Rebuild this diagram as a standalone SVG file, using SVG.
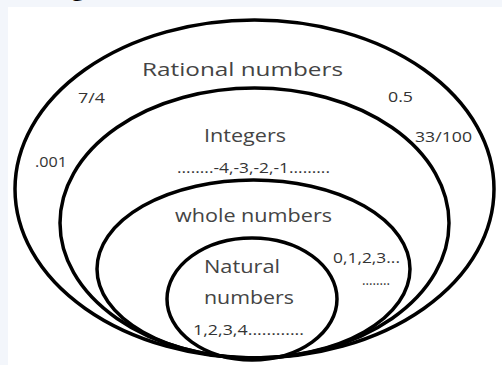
<svg xmlns="http://www.w3.org/2000/svg" width="502" height="365" viewBox="0 0 502 365">
<style>
.set{fill:none;stroke:#000;stroke-width:3.5}
.lbl{font-family:"Open Sans","Liberation Sans",sans-serif;fill:#444;text-anchor:middle}
.big{font-size:19px}
.sm{font-size:14px;fill:#333}
</style>
<rect x="0" y="0" width="502" height="365" fill="#f3f6fb"/>
<rect x="8" y="7" width="494" height="358" fill="#fff"/>
<text x="78" y="-5" style="font-family:'Open Sans','Liberation Sans',sans-serif;font-size:26px;fill:#000" text-anchor="middle">g</text>
<g id="connectors"></g>
<g id="rational">
<ellipse class="set" cx="254.5" cy="189" rx="239.5" ry="169"/>
<text class="lbl big" x="242.5" y="76" textLength="201" lengthAdjust="spacingAndGlyphs">Rational numbers</text>
<text class="lbl sm" x="91.5" y="103" textLength="27" lengthAdjust="spacingAndGlyphs">7/4</text>
<text class="lbl sm" x="400.5" y="102" textLength="25" lengthAdjust="spacingAndGlyphs">0.5</text>
<text class="lbl sm" x="443.5" y="142" textLength="57" lengthAdjust="spacingAndGlyphs">33/100</text>
<text class="lbl sm" x="51" y="167" textLength="32" lengthAdjust="spacingAndGlyphs">.001</text>
</g>
<g id="integers">
<ellipse class="set" cx="254.5" cy="223" rx="194.5" ry="135"/>
<text class="lbl big" x="245" y="142" textLength="82" lengthAdjust="spacingAndGlyphs">Integers</text>
<text class="lbl sm" x="253.5" y="173" textLength="153" lengthAdjust="spacingAndGlyphs">........-4,-3,-2,-1.........</text>
</g>
<g id="whole">
<ellipse class="set" cx="253.5" cy="269" rx="156.5" ry="89"/>
<text class="lbl big" x="253.5" y="222" textLength="157" lengthAdjust="spacingAndGlyphs">whole numbers</text>
<text class="lbl sm" x="366.5" y="263" textLength="67" lengthAdjust="spacingAndGlyphs">0,1,2,3...</text>
<text class="lbl sm" x="376" y="285" textLength="28" lengthAdjust="spacingAndGlyphs">........</text>
</g>
<g id="natural">
<ellipse class="set" cx="252" cy="299" rx="85" ry="61"/>
<text class="lbl big" x="242" y="273" textLength="76" lengthAdjust="spacingAndGlyphs">Natural</text>
<text class="lbl big" x="249" y="304" textLength="90" lengthAdjust="spacingAndGlyphs">numbers</text>
<text class="lbl sm" x="248.5" y="335" textLength="111" lengthAdjust="spacingAndGlyphs">1,2,3,4............</text>
</g>
</svg>
